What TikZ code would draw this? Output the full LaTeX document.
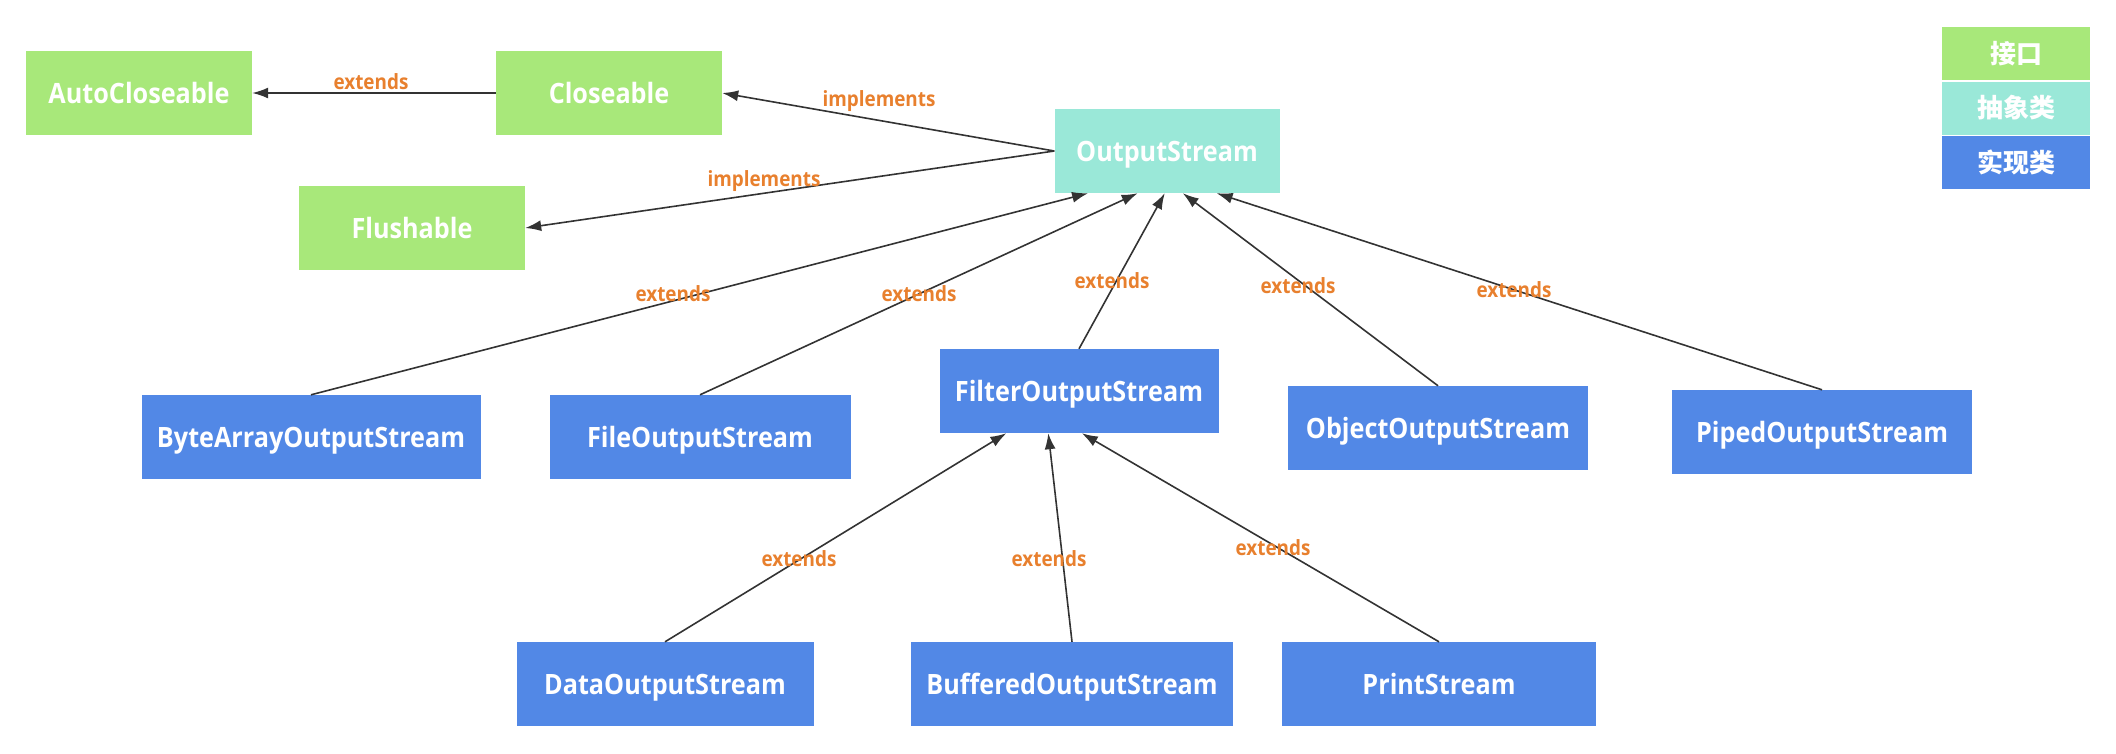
\documentclass[tikz,border=0pt]{standalone}
\usepackage{fontspec}
\setmainfont{Open Sans}
\newfontfamily\boxfont{Open Sans}[FakeStretch=0.9]
\newfontfamily\cjk{Noto Sans CJK SC}
\usetikzlibrary{arrows.meta,calc}
\definecolor{ifc}{HTML}{A8E87A}
\definecolor{absc}{HTML}{9AE8D8}
\definecolor{implc}{HTML}{5288E6}
\definecolor{lblc}{HTML}{E8802E}
\definecolor{edgec}{HTML}{333333}
\begin{document}
\begin{tikzpicture}[x=1pt,y=-1pt,
  box/.style={minimum height=84pt, inner sep=0pt, text=white, text height=22pt, text depth=2pt, font=\boxfont\fontsize{28}{32}\selectfont\bfseries},
  ifbox/.style={box, fill=ifc, minimum width=226pt},
  absbox/.style={box, fill=absc, minimum width=225pt},
  implbox/.style={box, fill=implc},
  legbox/.style={minimum width=148pt, minimum height=53pt, inner sep=0pt, text=white, font=\cjk\fontsize{26}{28}\selectfont\bfseries},
  rel/.style={draw=edgec, line width=1.6pt, -{Latex[length=16pt,width=11pt]}},
  lab/.style={text=lblc, font=\boxfont\fontsize{21}{24}\selectfont\bfseries, inner sep=1pt}
]
\useasboundingbox (0,0) rectangle (2116,753);

% interfaces and abstract class
\node[ifbox] (ac) at (139,93) {AutoCloseable};
\node[ifbox] (cl) at (609,93) {Closeable};
\node[ifbox] (fl) at (412,228) {Flushable};
\node[absbox] (os) at (1167,151) {OutputStream};

% implementations
\node[implbox, minimum width=339pt] (bao) at (311,437) {ByteArrayOutputStream};
\node[implbox, minimum width=301pt] (fos) at (700,437) {FileOutputStream};
\node[implbox, minimum width=279pt] (flt) at (1079,391) {FilterOutputStream};
\node[implbox, minimum width=300pt] (oos) at (1438,428) {ObjectOutputStream};
\node[implbox, minimum width=300pt] (pos) at (1822,432) {PipedOutputStream};
\node[implbox, minimum width=297pt] (dos) at (665,684) {DataOutputStream};
\node[implbox, minimum width=322pt] (bos) at (1072,684) {BufferedOutputStream};
\node[implbox, minimum width=314pt] (ps) at (1439,684) {PrintStream};

% legend
\node[legbox, fill=ifc] (l1) at (2016,53.5) {接口};
\node[legbox, fill=absc] (l2) at (2016,108) {抽象类};
\node[legbox, fill=implc] (l3) at (2016,162.5) {实现类};

% connectors
\draw[rel] (cl.west) -- (ac.east);
\draw[rel] (os.west) -- (cl.east);
\draw[rel] (os.west) -- (fl.east);
\draw[rel] (bao.north) -- ($(os.south west)!0.15!(os.south east)$);
\draw[rel] (fos.north) -- ($(os.south west)!0.37!(os.south east)$);
\draw[rel] (flt.north) -- ($(os.south west)!0.49!(os.south east)$);
\draw[rel] (oos.north) -- ($(os.south west)!0.57!(os.south east)$);
\draw[rel] (pos.north) -- ($(os.south west)!0.72!(os.south east)$);
\draw[rel] (dos.north) -- ($(flt.south west)!0.24!(flt.south east)$);
\draw[rel] (bos.north) -- ($(flt.south west)!0.39!(flt.south east)$);
\draw[rel] (ps.north) -- ($(flt.south west)!0.51!(flt.south east)$);

% labels
\node[lab] (t1) at (371,82) {extends};
\node[lab] (t2) at (879,101) {implements};
\node[lab] (t3) at (764,181) {implements};
\node[lab] (t4) at (673,294) {extends};
\node[lab] (t5) at (919,294) {extends};
\node[lab] (t6) at (1112,281) {extends};
\node[lab] (t7) at (1298,286) {extends};
\node[lab] (t8) at (1514,290) {extends};
\node[lab] (t9) at (799,559) {extends};
\node[lab] (t10) at (1049,559) {extends};
\node[lab] (t11) at (1273,548) {extends};
\end{tikzpicture}
\end{document}
